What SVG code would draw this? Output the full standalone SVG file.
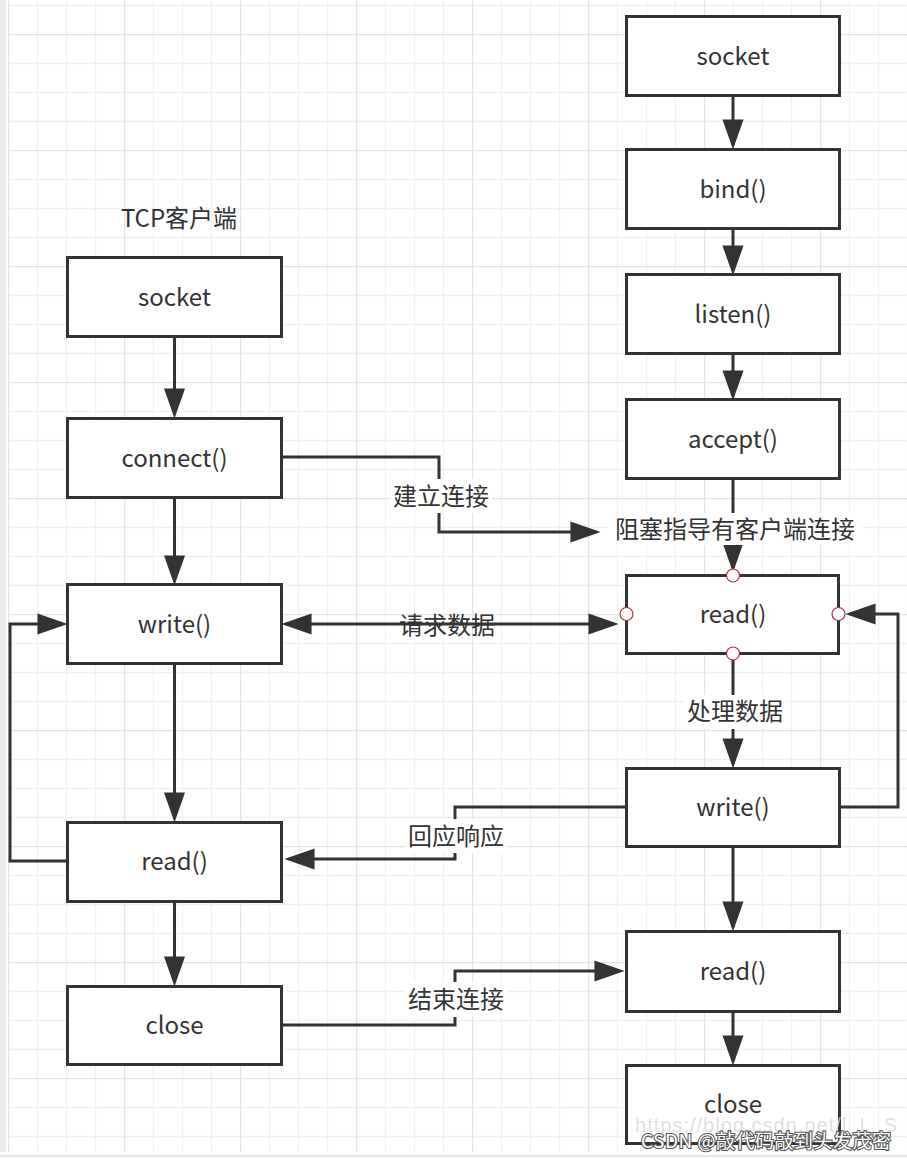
<svg xmlns="http://www.w3.org/2000/svg" width="907" height="1159" viewBox="0 0 907 1159">
<style>
.box{fill:#fff;stroke:#333;stroke-width:3}
.t{font-family:"Noto Sans CJK SC","Noto Sans",sans-serif;font-size:24px;fill:#333;text-anchor:middle}
.edge{fill:none;stroke:#333;stroke-width:3}
.lbg{fill:#fff}
.pt{fill:#fff;stroke:#b03030;stroke-width:1.2}
</style>
<defs>
<pattern id="grid" width="116" height="116" patternUnits="userSpaceOnUse" x="8" y="34">
<path d="M29.5 0V116M58.5 0V116M87.5 0V116M0 29.5H116M0 58.5H116M0 87.5H116" stroke="#f0f0f0" stroke-width="1.3" fill="none"/>
<path d="M0.5 0V116M0 0.5H116" stroke="#e4e4e4" stroke-width="1.5" fill="none"/>
</pattern>
<marker id="arr" markerUnits="userSpaceOnUse" markerWidth="30" markerHeight="22" viewBox="0 0 27 19" refX="23" refY="9.5" orient="auto-start-reverse">
<path d="M0,0 L27,9.5 L0,19 z" fill="#333"/>
</marker>
</defs>
<rect x="0" y="0" width="907" height="1159" fill="#fff"/>
<rect x="8" y="0" width="899" height="1152" fill="url(#grid)"/>
<rect x="0" y="0" width="6" height="1152" fill="#ececec"/>
<rect x="0" y="1155" width="907" height="2" fill="#e6e6e6"/>

<g id="connectors">
<path class="edge" marker-end="url(#arr)" d="M174.5,337 V414"/>
<path class="edge" marker-end="url(#arr)" d="M174.5,497 V581"/>
<path class="edge" marker-end="url(#arr)" d="M174.5,663 V818"/>
<path class="edge" marker-end="url(#arr)" d="M174.5,901 V982"/>
<path class="edge" marker-end="url(#arr)" d="M67,861 H10 V624 H63"/>
<path class="edge" marker-end="url(#arr)" d="M282,457 H439 V532 H596"/>
<path class="edge" marker-start="url(#arr)" marker-end="url(#arr)" d="M286,624 H614"/>
<path class="edge" marker-end="url(#arr)" d="M733,96 V145"/>
<path class="edge" marker-end="url(#arr)" d="M733,228 V271"/>
<path class="edge" marker-end="url(#arr)" d="M733,353 V396"/>
<path class="edge" marker-end="url(#arr)" d="M733,478 V568"/>
<path class="edge" marker-end="url(#arr)" d="M733,653 V764"/>
<path class="edge" marker-end="url(#arr)" d="M840,807 H898 V614 H850"/>
<path class="edge" marker-end="url(#arr)" d="M626,807 H455 V859 H289"/>
<path class="edge" marker-end="url(#arr)" d="M733,846 V927"/>
<path class="edge" marker-end="url(#arr)" d="M282,1025 H455 V971 H620"/>
<path class="edge" marker-end="url(#arr)" d="M733,1011 V1061"/>
<rect class="lbg" x="390" y="479" width="102" height="34"/>
<text class="t" x="441" y="505">建立连接</text>
<rect class="lbg" x="609" y="513" width="253" height="32"/>
<text class="t" x="735" y="538">阻塞指导有客户端连接</text>
<text class="t" x="447" y="634">请求数据</text>
<rect class="lbg" x="684" y="695" width="102" height="34"/>
<text class="t" x="735" y="720">处理数据</text>
<rect class="lbg" x="405" y="819" width="102" height="34"/>
<text class="t" x="456" y="845">回应响应</text>
<rect class="lbg" x="405" y="982" width="102" height="35"/>
<text class="t" x="456" y="1008">结束连接</text>
</g>

<text id="title" class="t" x="179" y="227">TCP客户端</text>

<g id="c_socket"><rect class="box" x="67.5" y="257.5" width="214" height="79"/><text class="t" x="174.5" y="306">socket</text></g>
<g id="c_connect"><rect class="box" x="67.5" y="418.5" width="214" height="79"/><text class="t" x="174.5" y="467">connect()</text></g>
<g id="c_write"><rect class="box" x="67.5" y="584.5" width="214" height="79"/><text class="t" x="174.5" y="633">write()</text></g>
<g id="c_read"><rect class="box" x="67.5" y="822.5" width="214" height="79"/><text class="t" x="174.5" y="870">read()</text></g>
<g id="c_close"><rect class="box" x="67.5" y="986.5" width="214" height="78"/><text class="t" x="174.5" y="1034">close</text></g>

<g id="s_socket"><rect class="box" x="626.5" y="16.5" width="213" height="79"/><text class="t" x="733" y="65">socket</text></g>
<g id="s_bind"><rect class="box" x="626.5" y="149.5" width="213" height="79"/><text class="t" x="733" y="198">bind()</text></g>
<g id="s_listen"><rect class="box" x="626.5" y="274.5" width="213" height="79"/><text class="t" x="733" y="323">listen()</text></g>
<g id="s_accept"><rect class="box" x="626.5" y="399.5" width="213" height="79"/><text class="t" x="733" y="448">accept()</text></g>
<g id="s_read"><rect class="box" x="626.5" y="575.5" width="212" height="78"/><text class="t" x="733" y="623">read()</text>
<circle class="pt" cx="733" cy="575.5" r="6.5"/><circle class="pt" cx="626.5" cy="614" r="6.5"/><circle class="pt" cx="838.5" cy="614" r="6.5"/><circle class="pt" cx="733" cy="653.5" r="6.5"/></g>
<g id="s_write"><rect class="box" x="626.5" y="768.5" width="213" height="78"/><text class="t" x="733" y="816">write()</text></g>
<g id="s_read2"><rect class="box" x="626.5" y="931.5" width="213" height="80"/><text class="t" x="733" y="980">read()</text></g>
<g id="s_close"><rect class="box" x="626.5" y="1065.5" width="213" height="78"/><text class="t" x="733" y="1113">close</text></g>

<g id="watermark">
<text x="635" y="1132" font-family="'Liberation Sans',sans-serif" font-size="20" fill="#d8d8d8" fill-opacity="0.8" textLength="262">https://blog.csdn.net/l_L_S</text>
<text x="641" y="1148" font-family="'Noto Sans CJK SC','Noto Sans',sans-serif" font-size="19" fill="#fff" stroke="#555" stroke-width="2.2" paint-order="stroke" textLength="250">CSDN @敲代码敲到头发茂密</text>
</g>
</svg>
